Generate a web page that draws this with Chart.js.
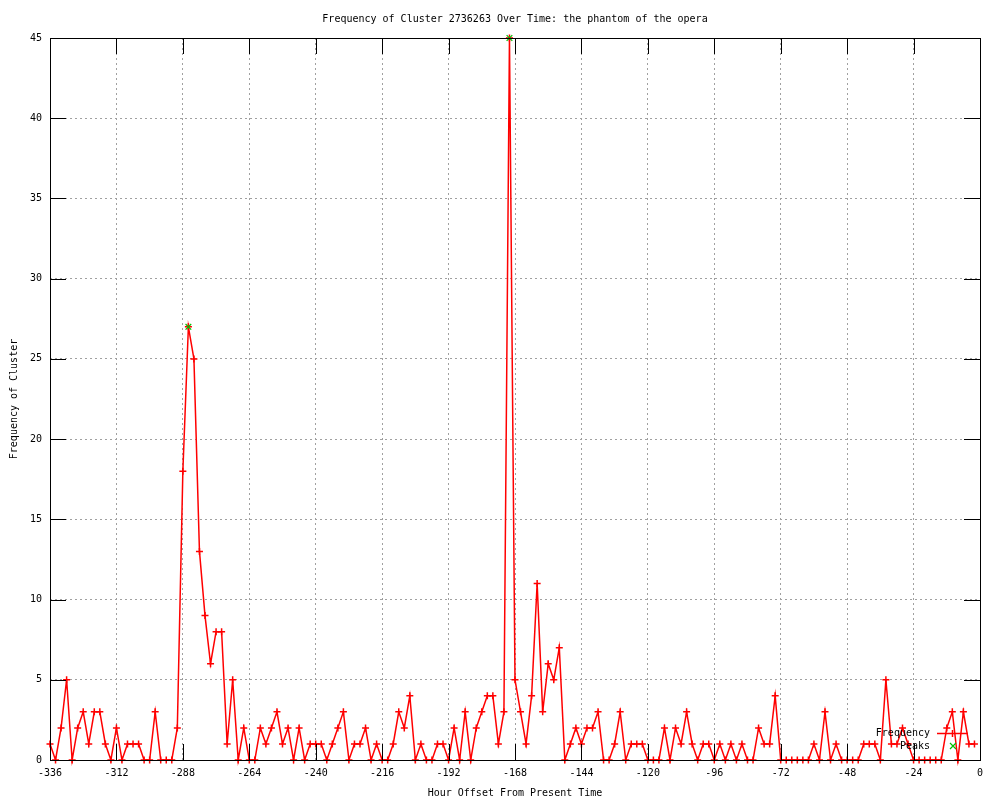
<!DOCTYPE html>
<html>
<head>
<meta charset="utf-8">
<script src="https://cdn.jsdelivr.net/npm/chart.js@4/dist/chart.umd.min.js"></script>
<style>
  body { margin: 0; background: #fff; }
  canvas { display: block; }
</style>
</head>
<body>
<canvas id="freqChart" width="1000" height="800"></canvas>
<script>
// hours before now, one sample every 2 hours
const hours = [
  -336, -334, -332, -330, -328, -326, -324, -322, -320, -318, -316, -314,
  -312, -310, -308, -306, -304, -302, -300, -298, -296, -294, -292, -290,
  -288, -286, -284, -282, -280, -278, -276, -274, -272, -270, -268, -266,
  -264, -262, -260, -258, -256, -254, -252, -250, -248, -246, -244, -242,
  -240, -238, -236, -234, -232, -230, -228, -226, -224, -222, -220, -218,
  -216, -214, -212, -210, -208, -206, -204, -202, -200, -198, -196, -194,
  -192, -190, -188, -186, -184, -182, -180, -178, -176, -174, -172, -170,
  -168, -166, -164, -162, -160, -158, -156, -154, -152, -150, -148, -146,
  -144, -142, -140, -138, -136, -134, -132, -130, -128, -126, -124, -122,
  -120, -118, -116, -114, -112, -110, -108, -106, -104, -102, -100, -98,
  -96, -94, -92, -90, -88, -86, -84, -82, -80, -78, -76, -74,
  -72, -70, -68, -66, -64, -62, -60, -58, -56, -54, -52, -50,
  -48, -46, -44, -42, -40, -38, -36, -34, -32, -30, -28, -26,
  -24, -22, -20, -18, -16, -14, -12, -10, -8, -6, -4, -2
];
const frequency = [
  1, 0, 2, 5, 0, 2, 3, 1, 3, 3, 1, 0,
  2, 0, 1, 1, 1, 0, 0, 3, 0, 0, 0, 2,
  18, 27, 25, 13, 9, 6, 8, 8, 1, 5, 0, 2,
  0, 0, 2, 1, 2, 3, 1, 2, 0, 2, 0, 1,
  1, 1, 0, 1, 2, 3, 0, 1, 1, 2, 0, 1,
  0, 0, 1, 3, 2, 4, 0, 1, 0, 0, 1, 1,
  0, 2, 0, 3, 0, 2, 3, 4, 4, 1, 3, 45,
  5, 3, 1, 4, 11, 3, 6, 5, 7, 0, 1, 2,
  1, 2, 2, 3, 0, 0, 1, 3, 0, 1, 1, 1,
  0, 0, 0, 2, 0, 2, 1, 3, 1, 0, 1, 1,
  0, 1, 0, 1, 0, 1, 0, 0, 2, 1, 1, 4,
  0, 0, 0, 0, 0, 0, 1, 0, 3, 0, 1, 0,
  0, 0, 0, 1, 1, 1, 0, 5, 1, 1, 2, 1,
  0, 0, 0, 0, 0, 0, 2, 3, 0, 3, 1, 1
];
const peakHours = [-286, -170];
const peakValues = [27, 45];

const FONT = "'DejaVu Sans Mono', monospace";
const TICK_LEN = 16;

// gnuplot style frame: box, inward ticks on all sides, titles, key
const gnuplotFrame = {
  id: "gnuplotFrame",
  afterDraw(chart) {
    const { ctx, chartArea: a, scales } = chart;
    ctx.save();
    ctx.strokeStyle = "#000";
    ctx.lineWidth = 1;
    ctx.beginPath();
    scales.x.ticks.forEach((t) => {
      const px = Math.round(scales.x.getPixelForValue(t.value)) + 0.5;
      ctx.moveTo(px, a.bottom); ctx.lineTo(px, a.bottom - TICK_LEN);
      ctx.moveTo(px, a.top); ctx.lineTo(px, a.top + TICK_LEN);
    });
    scales.y.ticks.forEach((t) => {
      const py = Math.round(scales.y.getPixelForValue(t.value)) + 0.5;
      ctx.moveTo(a.left, py); ctx.lineTo(a.left + TICK_LEN, py);
      ctx.moveTo(a.right, py); ctx.lineTo(a.right - TICK_LEN, py);
    });
    ctx.stroke();
    ctx.strokeRect(Math.round(a.left) + 0.5, Math.round(a.top) + 0.5,
      Math.round(a.right - a.left), Math.round(a.bottom - a.top));

    ctx.fillStyle = "#000";
    ctx.font = "10px " + FONT;
    ctx.textBaseline = "middle";
    ctx.textAlign = "center";
    const cx = (a.left + a.right) / 2;
    ctx.fillText("Frequency of Cluster 2736263 Over Time: the phantom of the opera", cx, 19);
    ctx.fillText("Hour Offset From Present Time", cx, 793);
    ctx.save();
    ctx.translate(14, (a.top + a.bottom) / 2);
    ctx.rotate(-Math.PI / 2);
    ctx.fillText("Frequency of Cluster", 0, 0);
    ctx.restore();

    // key
    ctx.textAlign = "right";
    ctx.fillText("Frequency", 930, 733);
    ctx.fillText("Peaks", 930, 746);
    ctx.strokeStyle = "red";
    ctx.lineWidth = 1.5;
    ctx.beginPath();
    ctx.moveTo(937, 733.5); ctx.lineTo(968, 733.5);
    ctx.moveTo(952.5, 730); ctx.lineTo(952.5, 737);
    ctx.stroke();
    ctx.strokeStyle = "#00c000";
    ctx.lineWidth = 1.2;
    ctx.beginPath();
    ctx.moveTo(950, 743); ctx.lineTo(956, 749);
    ctx.moveTo(956, 743); ctx.lineTo(950, 749);
    ctx.stroke();
    ctx.restore();
  },
};

new Chart(document.getElementById("freqChart"), {
  type: "scatter",
  data: {
    datasets: [
      {
        label: "Peaks",
        data: peakHours.map((h, i) => ({ x: h, y: peakValues[i] })),
        showLine: false,
        pointStyle: "crossRot",
        pointRadius: 4,
        pointBorderWidth: 1.2,
        borderColor: "#00c000",
        backgroundColor: "#00c000",
        pointBorderColor: "#00c000",
        clip: false,
      },
      {
        label: "Frequency",
        data: hours.map((h, i) => ({ x: h, y: frequency[i] })),
        showLine: true,
        borderColor: "red",
        backgroundColor: "red",
        borderWidth: 1.5,
        pointStyle: "cross",
        pointRadius: 3.5,
        pointBorderWidth: 1.5,
        pointBorderColor: "red",
        pointBackgroundColor: "red",
        clip: false,
      },
    ],
  },
  options: {
    responsive: false,
    animation: false,
    layout: { padding: { top: 38, right: 20, bottom: 0, left: 0 } },
    plugins: {
      legend: { display: false },
      title: { display: false },
      tooltip: { enabled: false },
    },
    scales: {
      x: {
        type: "linear",
        min: -336,
        max: 0,
        afterFit: (s) => { s.height = 40; },
        ticks: {
          stepSize: 24,
          color: "#000",
          padding: 7,
          maxRotation: 0,
          font: { family: FONT, size: 10 },
        },
        grid: { color: "#a0a0a0", drawTicks: false, tickLength: 0 },
        border: { display: false, dash: [2, 3] },
      },
      y: {
        min: 0,
        max: 45,
        afterFit: (s) => { s.width = 50; },
        ticks: {
          stepSize: 5,
          color: "#000",
          padding: 8,
          font: { family: FONT, size: 10 },
        },
        grid: { color: "#a0a0a0", drawTicks: false, tickLength: 0 },
        border: { display: false, dash: [2, 3] },
      },
    },
  },
  plugins: [gnuplotFrame],
});
</script>
</body>
</html>
